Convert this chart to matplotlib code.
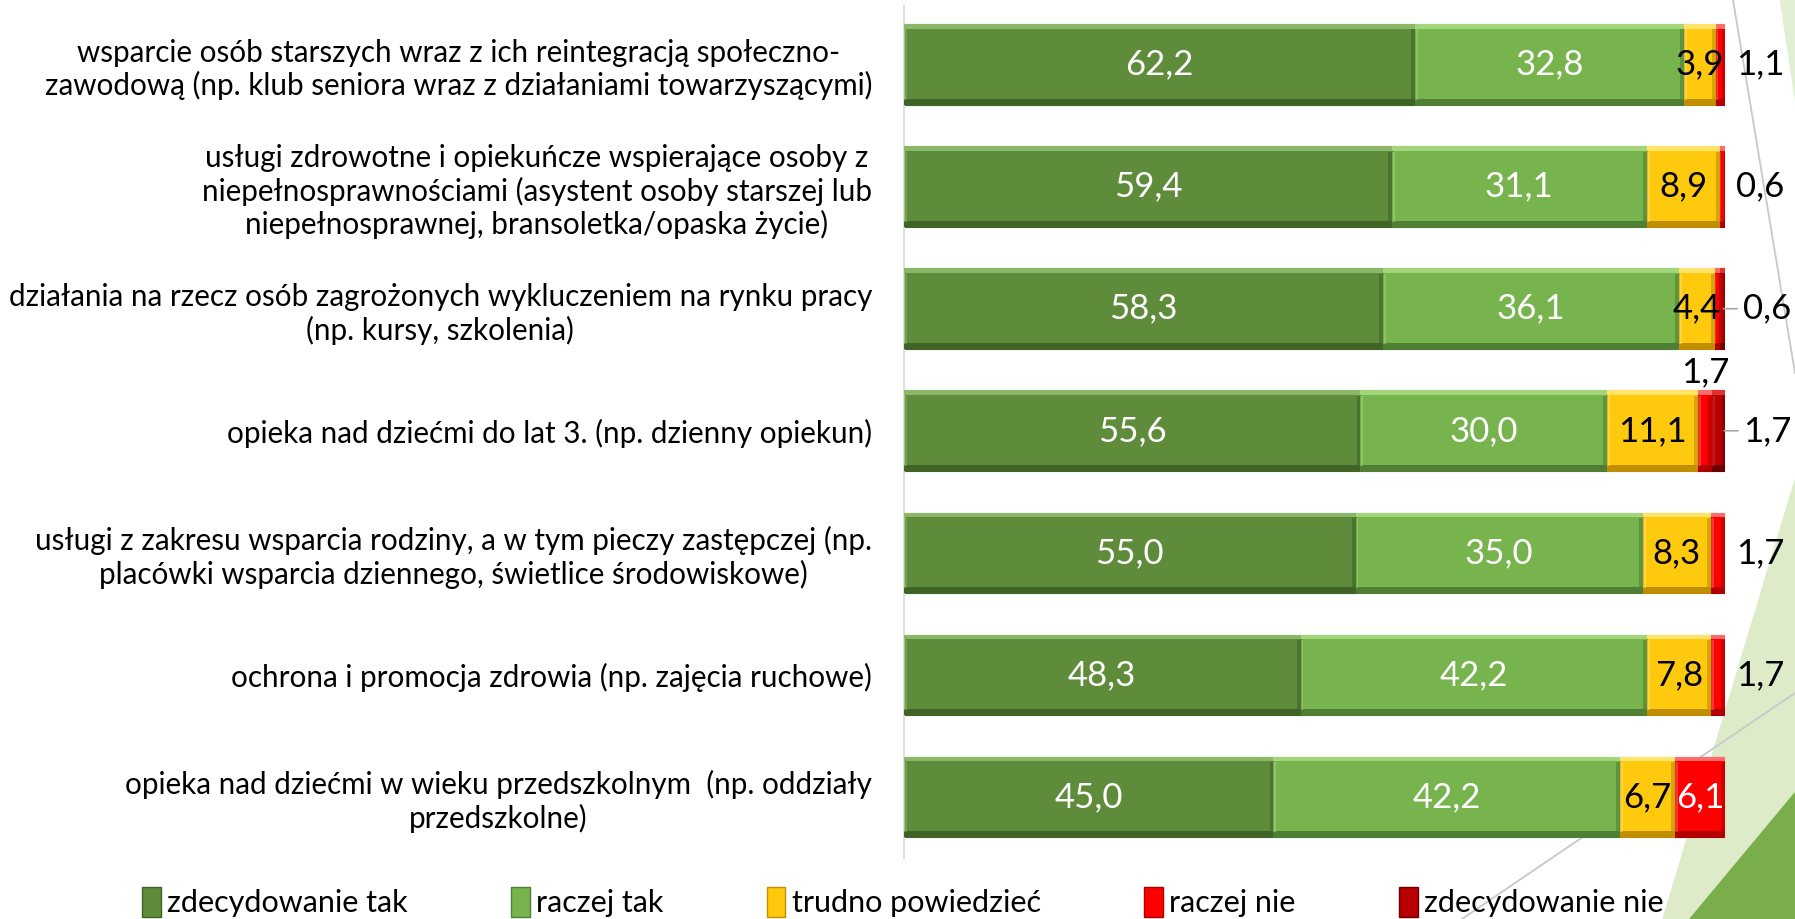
import matplotlib.pyplot as plt
from matplotlib.patches import Polygon, Patch
from matplotlib.lines import Line2D
import numpy as np

plt.rcParams['font.family'] = ['Lato', 'DejaVu Sans']

# Data (percent of answers)
categories = [
    'wsparcie osób starszych wraz z ich reintegracją społeczno-\nzawodową (np. klub seniora wraz z działaniami towarzyszącymi)',
    'usługi zdrowotne i opiekuńcze wspierające osoby z\nniepełnosprawnościami (asystent osoby starszej lub\nniepełnosprawnej, bransoletka/opaska życie)',
    'działania na rzecz osób zagrożonych wykluczeniem na rynku pracy\n(np. kursy, szkolenia)',
    'opieka nad dziećmi do lat 3. (np. dzienny opiekun)',
    'usługi z zakresu wsparcia rodziny, a w tym pieczy zastępczej (np.\nplacówki wsparcia dziennego, świetlice środowiskowe)',
    'ochrona i promocja zdrowia (np. zajęcia ruchowe)',
    'opieka nad dziećmi w wieku przedszkolnym  (np. oddziały\nprzedszkolne)',
]
series_names = ['zdecydowanie tak', 'raczej tak', 'trudno powiedzieć', 'raczej nie', 'zdecydowanie nie']
zdec_tak = [62.2, 59.4, 58.3, 55.6, 55.0, 48.3, 45.0]
raczej_tak = [32.8, 31.1, 36.1, 30.0, 35.0, 42.2, 42.2]
trudno = [3.9, 8.9, 4.4, 11.1, 8.3, 7.8, 6.7]
raczej_nie = [1.1, 0.6, 0.6, 1.7, 1.7, 1.7, 6.1]
zdec_nie = [0.0, 0.0, 0.6, 1.7, 0.0, 0.0, 0.0]

colors = ['#5E8C3A', '#78B44E', '#FFC90E', '#FF0000', '#B80000']
light = ['#8BB866', '#A3D67A', '#FFE36A', '#FF6A6A', '#E03030']
dark = ['#3F6426', '#4F7F35', '#C08E00', '#B00000', '#6A0000']
text_colors = ['white', 'white', 'black', 'white', 'black']

# hidden label: raczej nie in row 3 (only one 0,6 shown in original)
hidden = {(2, 3)}

fig = plt.figure(figsize=(17.95, 9.19), dpi=100)


def fp(x, y):
    return (x / 1795, 1 - y / 919)


# slide background decoration
fig.add_artist(Polygon([fp(1780, 0), fp(1795, 0), fp(1795, 100)], closed=True,
                       transform=fig.transFigure, color='#E2EFD4', zorder=-5))
fig.add_artist(Polygon([fp(1795, 480), fp(1663, 919), fp(1795, 919)], closed=True,
                       transform=fig.transFigure, color='#DDEBC9', zorder=-5))
fig.add_artist(Polygon([fp(1690, 919), fp(1795, 793), fp(1795, 919)], closed=True,
                       transform=fig.transFigure, color='#79AE4B', zorder=-4))
fig.add_artist(Line2D([1733 / 1795, 1.0], [1.0, 1 - 373 / 919], transform=fig.transFigure,
                      color='#C8C8C8', lw=1.3, zorder=-3))
fig.add_artist(Line2D([1.0, 1462 / 1795], [1 - 693 / 919, 0.0], transform=fig.transFigure,
                      color='#C8C8C8', lw=1.3, zorder=-3))

ax = fig.add_axes([904 / 1795, 1 - 858 / 919, 821 / 1795, 852 / 919])
ax.patch.set_visible(False)

data = np.array([zdec_tak, raczej_tak, trudno, raczej_nie, zdec_nie])
y = np.arange(len(categories))
h = 0.66
top_s = 0.035
bot_s = 0.05
lefts = np.zeros(len(categories))

for i, vals in enumerate(data):
    ax.barh(y, vals, left=lefts, height=h, color=colors[i], edgecolor=dark[i], linewidth=0.8, zorder=2)
    # bevel: top highlight, bottom shadow, right shadow, left highlight
    ax.barh(y - h / 2 + top_s / 2, vals, left=lefts, height=top_s, color=light[i], linewidth=0, zorder=3)
    ax.barh(y + h / 2 - bot_s / 2, vals, left=lefts, height=bot_s, color=dark[i], linewidth=0, zorder=3)
    w = np.minimum(0.45, vals * 0.3)
    ax.barh(y, w, left=lefts + vals - w, height=h - top_s - bot_s, color=dark[i], linewidth=0,
            zorder=3, alpha=0.6)
    w2 = np.minimum(0.35, vals * 0.25)
    ax.barh(y, w2, left=lefts, height=h - top_s - bot_s, color=light[i], linewidth=0, zorder=3, alpha=0.5)

    for j, v in enumerate(vals):
        if v <= 0 or (j, i) in hidden:
            continue
        txt = f'{v:.1f}'.replace('.', ',')
        end = lefts[j] + v
        is_last = data[i + 1:, j].sum() == 0 if i < len(data) - 1 else True
        if v >= 3:
            ax.text(lefts[j] + v / 2, y[j], txt, ha='center', va='center',
                    color=text_colors[i], fontsize=25, zorder=5)
        elif is_last:
            if i == 4:
                # moved label with leader line
                ax.annotate(txt, xy=(end - 0.2, y[j]), xytext=(end + 5.1, y[j]), ha='center', va='center',
                            fontsize=25, color='black', zorder=5, annotation_clip=False,
                            arrowprops=dict(arrowstyle='-', color='#A6A6A6', lw=1.2, shrinkA=2, shrinkB=0))
            else:
                ax.text(end + 4.3, y[j], txt, ha='center', va='center', fontsize=25, color='black', zorder=5)
        else:
            ax.text(lefts[j] + v / 2, y[j] - h / 2 - 0.02, txt, ha='center', va='bottom',
                    fontsize=25, color='black', zorder=5)
    lefts = lefts + vals

ax.set_xlim(0, 100)
ax.set_ylim(6.5, -0.48)
ax.set_yticks(y)
ax.set_yticklabels(categories, fontsize=21.3)
for t in ax.get_yticklabels():
    t.set_multialignment('center')
ax.tick_params(axis='y', length=0, pad=23)
ax.set_xticks([])
for s in ['top', 'right', 'bottom']:
    ax.spines[s].set_visible(False)
ax.spines['left'].set_color('#D9D9D9')
ax.spines['left'].set_linewidth(1.2)

handles = [Patch(facecolor=colors[i], edgecolor=dark[i], label=series_names[i]) for i in range(5)]
fig.legend(handles=handles, loc='center', bbox_to_anchor=(0.503, 0.018), ncol=5, frameon=False,
           fontsize=22, handlelength=0.6, handleheight=1.1, handletextpad=0.2, columnspacing=3.4)

fig.savefig('out.png', dpi=100)
